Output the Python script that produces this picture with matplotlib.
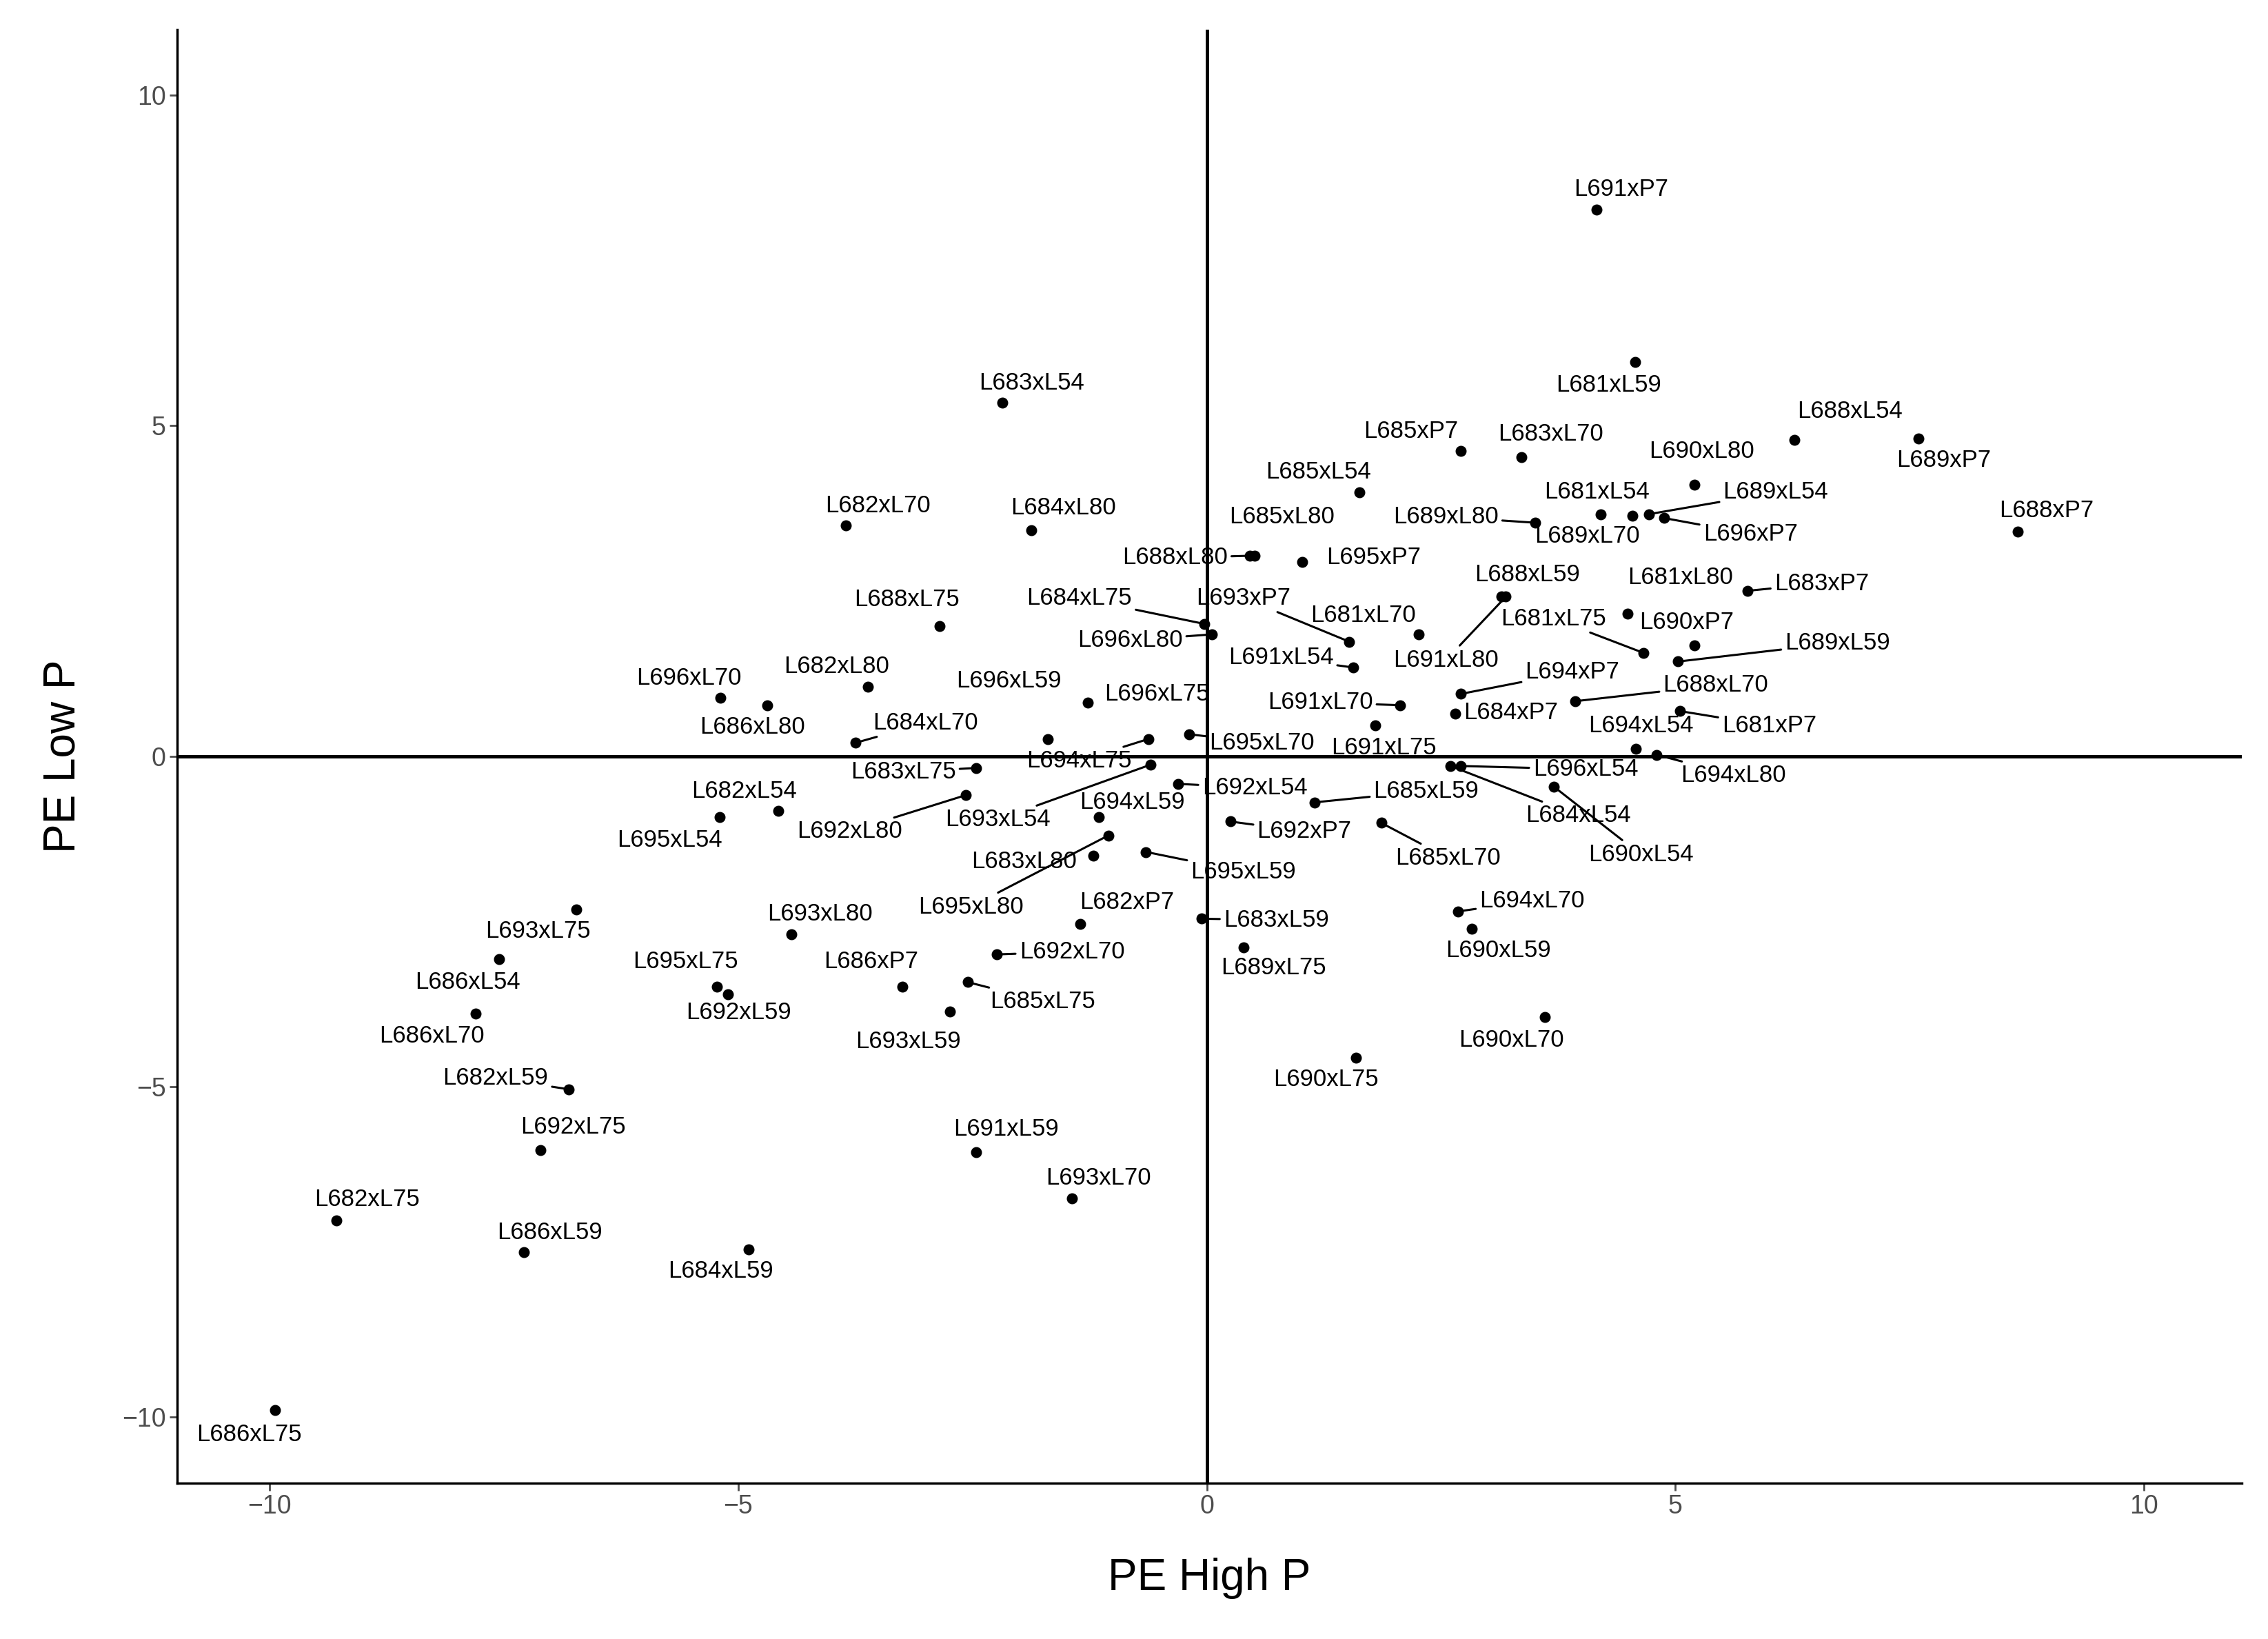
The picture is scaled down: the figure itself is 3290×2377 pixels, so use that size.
import numpy as np
import matplotlib.pyplot as plt

plt.rcParams['font.family'] = ['Liberation Sans', 'DejaVu Sans']

names = ["L691xP7", "L681xL59", "L683xL54", "L688xL54", "L689xP7", "L685xP7", "L683xL70", "L690xL80",
         "L688xP7", "L685xL54", "L681xL54", "L689xL54", "L696xP7", "L689xL70", "L689xL80", "L682xL70",
         "L684xL80", "L685xL80", "L688xL80", "L695xP7", "L688xL59", "L681xL80", "L683xP7", "L693xP7",
         "L684xL75", "L681xL70", "L688xL75", "L681xL75", "L690xP7", "L696xL80", "L689xL59", "L691xL54",
         "L691xL80", "L682xL80", "L696xL70", "L686xL80", "L696xL59", "L696xL75", "L694xP7", "L688xL70",
         "L691xL70", "L684xP7", "L681xP7", "L694xL54", "L684xL70", "L694xL75", "L695xL70", "L691xL75",
         "L694xL80", "L696xL54", "L684xL54", "L683xL75", "L692xL54", "L694xL59", "L682xL54", "L695xL54",
         "L692xL80", "L693xL54", "L685xL59", "L692xP7", "L685xL70", "L690xL54", "L683xL80", "L695xL59",
         "L695xL80", "L682xP7", "L683xL59", "L693xL75", "L693xL80", "L694xL70", "L690xL59", "L692xL70",
         "L689xL75", "L686xL54", "L695xL75", "L686xP7", "L692xL59", "L685xL75", "L686xL70", "L693xL59",
         "L690xL70", "L690xL75", "L682xL59", "L691xL59", "L692xL75", "L693xL70", "L682xL75", "L686xL59",
         "L684xL59", "L686xL75"]

pe_high = [4.16, 4.57, -2.18, 6.27, 7.59, 2.71, 3.36, 5.20,
           8.65, 1.63, 4.20, 4.72, 4.88, 4.54, 3.50, -3.85,
           -1.87, 0.51, 0.46, 1.02, 3.14, 4.49, 5.77, 1.52,
           -0.03, 2.26, -2.85, 4.66, 5.20, 0.05, 5.03, 1.56,
           3.19, -3.62, -5.19, -4.69, -1.70, -1.27, 2.71, 3.93,
           2.06, 2.65, 5.05, 4.58, -3.75, -0.62, -0.19, 1.80,
           4.80, 2.71, 2.60, -2.46, -0.31, -1.15, -4.57, -5.20,
           -2.57, -0.60, 1.15, 0.25, 1.86, 3.70, -1.21, -0.65,
           -1.05, -1.35, -0.06, -6.73, -4.43, 2.68, 2.83, -2.24,
           0.39, -7.55, -5.23, -3.25, -5.11, -2.55, -7.80, -2.74,
           3.61, 1.59, -6.81, -2.46, -7.11, -1.44, -9.29, -7.29,
           -4.89, -9.94]

pe_low = [8.27, 5.96, 5.35, 4.78, 4.80, 4.61, 4.52, 4.10,
          3.40, 3.99, 3.66, 3.66, 3.60, 3.64, 3.53, 3.49,
          3.42, 3.03, 3.03, 2.94, 2.41, 2.15, 2.50, 1.73,
          2.00, 1.84, 1.97, 1.56, 1.67, 1.84, 1.43, 1.34,
          2.41, 1.05, 0.88, 0.77, 0.26, 0.81, 0.94, 0.83,
          0.77, 0.64, 0.68, 0.11, 0.20, 0.26, 0.33, 0.46,
          0.02, -0.15, -0.15, -0.18, -0.42, -0.92, -0.83, -0.92,
          -0.59, -0.13, -0.70, -0.99, -1.01, -0.46, -1.51, -1.45,
          -1.20, -2.54, -2.46, -2.32, -2.70, -2.35, -2.61, -3.00,
          -2.89, -3.07, -3.49, -3.49, -3.60, -3.42, -3.90, -3.86,
          -3.95, -4.56, -5.04, -5.99, -5.96, -6.69, -7.02, -7.50,
          -7.46, -9.89]

# label placement (data units), as repelled in the reference
lab_x = [4.42, 4.29, -1.87, 6.86, 7.86, 2.18, 3.67, 5.28,
         8.96, 1.19, 4.16, 6.07, 5.80, 4.06, 2.55, -3.51,
         -1.53, 0.80, -0.34, 1.78, 3.42, 5.05, 6.56, 0.39,
         -1.36, 1.67, -3.20, 3.70, 5.12, -0.82, 6.73, 0.79,
         2.55, -3.95, -5.53, -4.85, -2.11, -0.53, 3.90, 5.43,
         1.21, 3.24, 6.00, 4.63, -3.00, -1.36, 0.59, 1.89,
         5.62, 4.04, 3.96, -3.24, 0.51, -0.80, -4.94, -5.73,
         -3.81, -2.23, 2.34, 1.04, 2.57, 4.63, -1.95, 0.39,
         -2.52, -0.85, 0.74, -7.14, -4.13, 3.47, 3.11, -1.44,
         0.71, -7.89, -5.56, -3.58, -5.00, -1.75, -8.27, -3.19,
         3.25, 1.27, -7.59, -2.14, -6.76, -1.16, -8.96, -7.01,
         -5.19, -10.22]

lab_y = [8.57, 5.61, 5.64, 5.22, 4.47, 4.91, 4.87, 4.61,
         3.71, 4.30, 3.99, 3.99, 3.36, 3.33, 3.62, 3.79,
         3.75, 3.62, 3.00, 3.00, 2.74, 2.70, 2.61, 2.39,
         2.39, 2.13, 2.37, 2.08, 2.02, 1.75, 1.71, 1.49,
         1.45, 1.36, 1.18, 0.44, 1.14, 0.94, 1.27, 1.07,
         0.81, 0.66, 0.46, 0.46, 0.50, -0.07, 0.20, 0.13,
         -0.29, -0.20, -0.90, -0.24, -0.48, -0.70, -0.53, -1.27,
         -1.14, -0.96, -0.53, -1.14, -1.54, -1.49, -1.60, -1.75,
         -2.28, -2.21, -2.48, -2.65, -2.39, -2.19, -2.94, -2.96,
         -3.20, -3.42, -3.11, -3.11, -3.88, -3.71, -4.23, -4.32,
         -4.30, -4.89, -4.87, -5.64, -5.61, -6.38, -6.71, -7.21,
         -7.79, -10.26]

fig = plt.figure(figsize=(32.91, 23.77), dpi=100)
ax = fig.add_axes([0.078, 0.095, 0.91, 0.887])

ax.axhline(0, color='black', lw=3.5, zorder=1)
ax.axvline(0, color='black', lw=3.5, zorder=1)
ax.scatter(pe_high, pe_low, s=110, color='black', zorder=3)

for n, px, py, tx, ty in zip(names, pe_high, pe_low, lab_x, lab_y):
    far = np.hypot((tx - px) * 136, (ty - py) * 96) > 105
    ax.annotate(n, xy=(px, py), xytext=(tx, ty), ha='center', va='center', fontsize=25,
                arrowprops=dict(arrowstyle='-', lw=2.2, color='black', shrinkA=2, shrinkB=0) if far else None)

ax.set_xlim(-10.99, 11.04)
ax.set_ylim(-11.0, 10.99)
ax.set_xticks([-10, -5, 0, 5, 10])
ax.set_yticks([-10, -5, 0, 5, 10])
ax.tick_params(labelsize=27, length=8, width=2, colors='#4d4d4d', labelcolor='#4d4d4d')
ax.spines['top'].set_visible(False)
ax.spines['right'].set_visible(False)
for s in ['left', 'bottom']:
    ax.spines[s].set_linewidth(2.5)
ax.set_xlabel('PE High P', fontsize=46, labelpad=40)
ax.set_ylabel('PE Low P', fontsize=46, labelpad=40)

plt.savefig('out.png', dpi=100)
